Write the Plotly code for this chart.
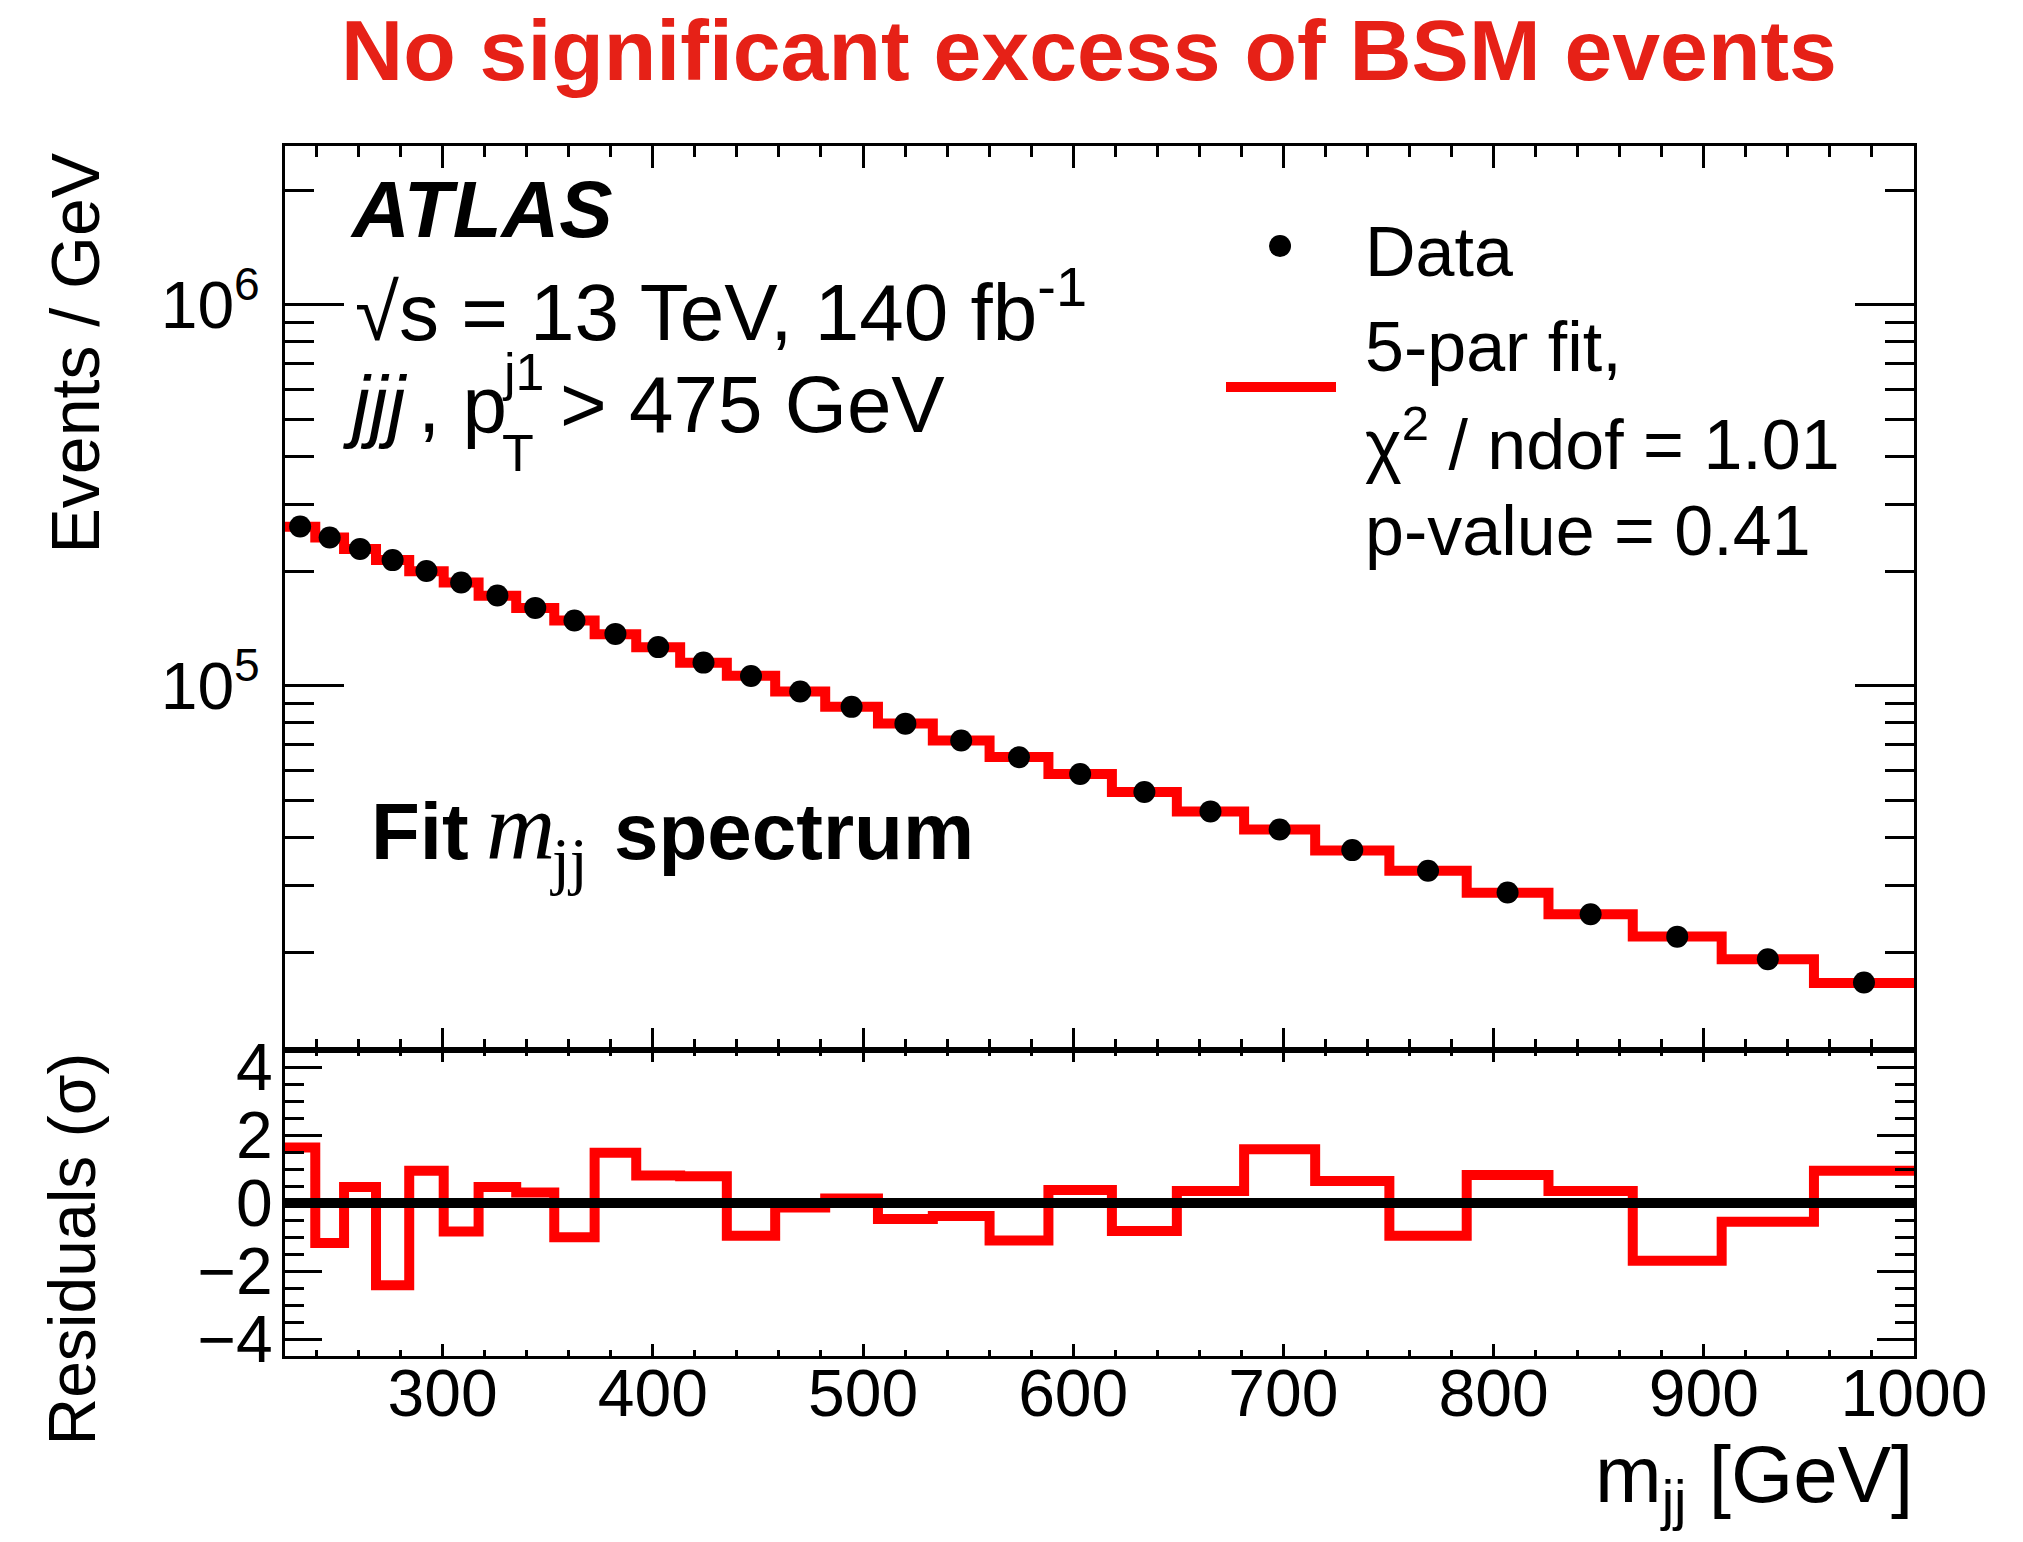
import math
import plotly.graph_objects as go

# ---------------- data ----------------
bin_edges = [225.0, 239.4, 253.1, 268.3, 284.1, 300.5, 317.1, 335.0, 353.1, 372.3,
             392.1, 413.0, 435.2, 458.2, 482.0, 507.1, 533.2, 560.2, 588.2, 618.4,
             649.3, 681.3, 715.1, 750.4, 787.2, 826.1, 866.2, 908.5, 952.4, 1000.0]

data_events_per_gev = [261900, 245000, 228800, 213800, 200100, 186700, 172600, 160200,
                       148400, 136900, 126400, 115100, 106200, 96700, 88100, 79600,
                       71900, 65000, 58700, 52640, 46840, 42000, 37070, 32710,
                       28680, 25160, 21980, 19170, 16650]

fit_events_per_gev = [261600, 245200, 228700, 213900, 200000, 186800, 172500, 160100,
                      148500, 136700, 126300, 115000, 106300, 96700, 88100, 79700,
                      71900, 65100, 58700, 52660, 46800, 41990, 37000, 32730,
                      28650, 25150, 22010, 19180, 16620]

residuals_sigma = [1.63, -1.18, 0.47, -2.42, 0.95, -0.84, 0.47, 0.31, -1.01, 1.48,
                   0.81, 0.79, -0.96, -0.13, 0.13, -0.47, -0.38, -1.10, 0.38, -0.82,
                   0.35, 1.58, 0.65, -0.96, 0.82, 0.35, -1.70, -0.55, 0.95]

x_range = [225, 1000]
y_range_events = [1.108e4, 2.61e6]
y_range_resid = [-4.5, 4.5]

y_major_vals = [1e5, 1e6]
y_major_text = ["10<sup>5</sup>", "10<sup>6</sup>"]
y_minor_vals = [2e4, 3e4, 4e4, 5e4, 6e4, 7e4, 8e4, 9e4,
                2e5, 3e5, 4e5, 5e5, 6e5, 7e5, 8e5, 9e5, 2e6]
resid_tick_vals = [-4, -2, 0, 2, 4]

# ---------------- derived plotting arrays ----------------
bin_centers = [(a + b) / 2 for a, b in zip(bin_edges[:-1], bin_edges[1:])]
fit_step = fit_events_per_gev + [fit_events_per_gev[-1]]
resid_step = residuals_sigma + [residuals_sigma[-1]]

W, H = 2023, 1542
L, R, T, B = 285, 109, 146, 186
PW, PH = W - L - R, H - T - B
split = 306 / PH  # lower panel fraction


def px(X):
    return (X - L) / PW


def py(Y):
    return (H - B - Y) / PH


FONT = "Liberation Sans, Arial, Helvetica, sans-serif"
SERIF = "Liberation Serif, Times New Roman, serif"
RED = "#ff0000"

fig = go.Figure()
fig.add_trace(go.Scatter(x=bin_edges, y=fit_step, mode="lines",
                         line=dict(shape="hv", color=RED, width=10),
                         xaxis="x", yaxis="y", showlegend=False, hoverinfo="skip"))
fig.add_trace(go.Scatter(x=bin_centers, y=data_events_per_gev, mode="markers",
                         marker=dict(color="black", size=22, line=dict(width=0)),
                         xaxis="x", yaxis="y", showlegend=False))
fig.add_trace(go.Scatter(x=bin_edges, y=resid_step, mode="lines",
                         line=dict(shape="hv", color=RED, width=10),
                         xaxis="x2", yaxis="y2", showlegend=False, hoverinfo="skip"))

common = dict(showline=True, linecolor="black", linewidth=3, mirror="allticks",
              ticks="inside", tickcolor="black", tickwidth=3, showgrid=False,
              zeroline=False, tickfont=dict(family=FONT, size=66, color="black"))

fig.update_layout(
    width=W, height=H,
    margin=dict(l=L, r=R, t=T, b=B, pad=0),
    paper_bgcolor="white", plot_bgcolor="white",
    font=dict(family=FONT, color="black"),
    title=dict(text="<b>No significant excess of BSM events</b>",
               font=dict(family=FONT, size=86, color="#e62117"),
               x=1089 / W, xanchor="center", xref="container",
               y=1 - 50 / H, yanchor="middle", yref="container"),
    xaxis=dict(**common, domain=[0, 1], anchor="y", range=x_range,
               tick0=0, dtick=100, ticklen=22, showticklabels=False, matches="x2",
               minor=dict(ticks="inside", dtick=20, tick0=0, ticklen=11,
                          tickwidth=3, tickcolor="black", showgrid=False)),
    yaxis=dict(**common, domain=[split, 1], anchor="x", type="log",
               range=[math.log10(y_range_events[0]), math.log10(y_range_events[1])],
               tickmode="array", tickvals=y_major_vals, ticktext=y_major_text,
               ticklen=59, ticklabelstandoff=9,
               minor=dict(ticks="inside", tickmode="array", tickvals=y_minor_vals,
                          ticklen=29, tickwidth=3, tickcolor="black", showgrid=False)),
    xaxis2=dict(**common, domain=[0, 1], anchor="y2", range=x_range,
                tick0=0, dtick=100, ticklen=12, ticklabelstandoff=-22,
                minor=dict(ticks="inside", dtick=20, tick0=0, ticklen=6,
                           tickwidth=3, tickcolor="black", showgrid=False)),
    yaxis2=dict(**common, domain=[0, split], anchor="x2", range=y_range_resid,
                tickmode="array", tickvals=resid_tick_vals, ticklen=37,
                ticklabelstandoff=-4,
                minor=dict(ticks="inside", dtick=0.5, tick0=0, ticklen=19,
                           tickwidth=3, tickcolor="black", showgrid=False)),
)

# zero line in the residual panel
fig.add_shape(type="line", xref="x2 domain", yref="y2", x0=0, x1=1, y0=0, y1=0,
              line=dict(color="black", width=10), layer="above")

# legend symbols
fig.add_shape(type="circle", xref="paper", yref="paper",
              xsizemode="pixel", ysizemode="pixel",
              xanchor=px(1280), yanchor=py(246), x0=-11, x1=11, y0=-11, y1=11,
              fillcolor="black", line=dict(width=0))
fig.add_shape(type="line", xref="paper", yref="paper",
              x0=px(1226), x1=px(1336), y0=py(387), y1=py(387),
              line=dict(color=RED, width=10))


def note(text, X, Y, size, xanchor="left", yanchor="middle", angle=0, family=FONT):
    fig.add_annotation(text=text, xref="paper", yref="paper", x=px(X), y=py(Y),
                       xanchor=xanchor, yanchor=yanchor, showarrow=False,
                       textangle=angle, font=dict(family=family, size=size, color="black"))


note("<b><i>ATLAS</i></b>", 348, 210, 80)
note("\u221as = 13 TeV, 140 fb<sup>-1</sup>", 353, 306, 80)
note("<i>jjj</i>", 341, 404, 80)
note(", p", 416, 404, 80)
note("j1", 500, 372, 52)
note("T", 500, 453, 52)
note("> 475 GeV", 558, 404, 80)

note("<b>Fit</b>", 369, 831, 80)
note("<i>m</i>", 484, 826, 96, family=SERIF)
note("jj", 548, 861, 64, family=SERIF)
note("<b>spectrum</b>", 612, 831, 80)

note("Data", 1363, 252, 70)
note("5-par fit,", 1363, 347, 70)
note("\u03c7<sup>2</sup> / ndof = 1.01", 1363, 440, 70)
note("p-value = 0.41", 1363, 531, 70)

note("Events / GeV", 74, 151, 68, xanchor="center", yanchor="top", angle=-90)
note("Residuals (\u03c3)", 71, 1051, 66, xanchor="center", yanchor="top", angle=-90)
note("m<sub>jj</sub> [GeV]", 1915, 1480, 80, xanchor="right", yanchor="middle")

fig.write_html("out.html")
